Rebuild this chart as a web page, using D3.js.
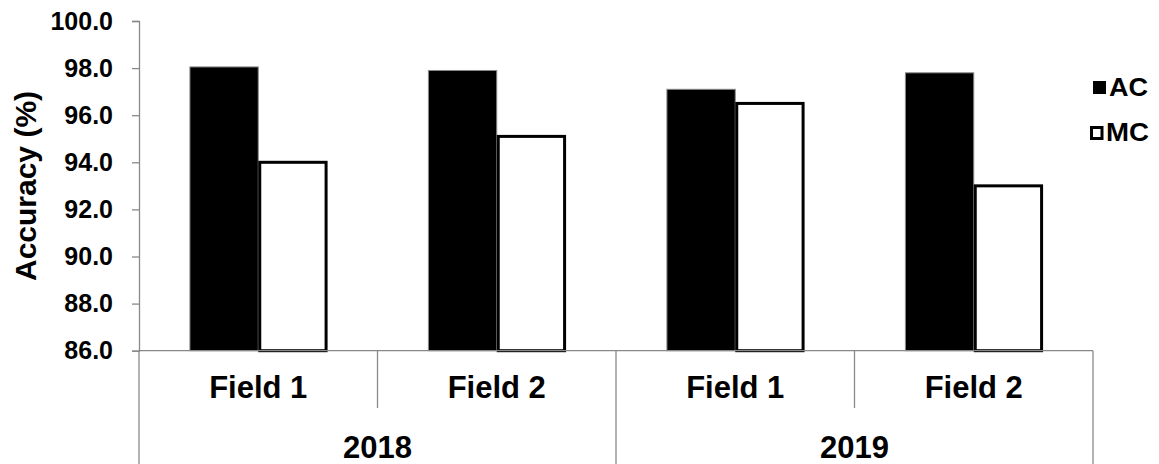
<!DOCTYPE html>
<html>
<head>
<meta charset="utf-8">
<script src="https://cdn.jsdelivr.net/npm/d3@7"></script>
<style>
  html, body { margin: 0; padding: 0; background: #fff; }
  svg text { font-family: "Liberation Sans", Arial, sans-serif; font-weight: bold; fill: #000; }
</style>
</head>
<body>
<svg id="chart" width="1159" height="464"></svg>
<script>
// Accuracy of AC and MC per field and year
const years = ["2018", "2019"];
const fields = ["Field 1", "Field 2"];
const series = ["AC", "MC"];
const acValues = [98.05, 97.9, 97.1, 97.8];
const mcValues = [94.0, 95.1, 96.5, 93.0];
const yTicks = [86, 88, 90, 92, 94, 96, 98, 100];

const categories = [];
years.forEach(yr => fields.forEach(f => categories.push({ year: yr, field: f, key: yr + " " + f })));
const rows = categories.map((c, i) => ({ ...c, AC: acValues[i], MC: mcValues[i] }));

const svg = d3.select("#chart");
const plotLeft = 139, plotRight = 1093, plotTop = 21, plotBottom = 350.7;
const axisColor = "#898989";

const x = d3.scaleBand().domain(categories.map(c => c.key)).range([plotLeft, plotRight]).paddingInner(0).paddingOuter(0);
const xs = d3.scaleBand().domain(series).range([0, x.bandwidth()]).paddingInner(0).paddingOuter(0.745);
const y = d3.scaleLinear().domain([86, 100]).range([plotBottom, plotTop]);

// bars
const groups = svg.append("g").selectAll("g").data(rows).join("g")
  .attr("transform", d => `translate(${x(d.key)},0)`);

groups.append("rect")
  .attr("x", xs("AC")).attr("width", xs.bandwidth())
  .attr("y", d => y(d.AC)).attr("height", d => y(86) - y(d.AC))
  .attr("fill", "#000").attr("stroke", "#8a8a8a").attr("stroke-width", 1);

groups.append("rect")
  .attr("x", xs("MC") + 1.5).attr("width", xs.bandwidth() - 2)
  .attr("y", d => y(d.MC)).attr("height", d => y(86) - y(d.MC))
  .attr("fill", "#fff").attr("stroke", "#000").attr("stroke-width", 3);

// y axis
const yAxis = d3.axisLeft(y).tickValues(yTicks).tickSize(7).tickPadding(19).tickFormat(d3.format(".1f"));
const gy = svg.append("g").attr("transform", `translate(${plotLeft},0)`).call(yAxis);
gy.select(".domain").attr("stroke", axisColor).attr("stroke-width", 1.3);
gy.selectAll(".tick line").attr("stroke", axisColor).attr("stroke-width", 1.3);
gy.selectAll(".tick text").style("font-size", "25px").attr("fill", "#000");

// category axis: baseline and separators
const ax = svg.append("g").attr("stroke", axisColor).attr("stroke-width", 1.3);
ax.append("line").attr("x1", plotLeft).attr("x2", plotRight).attr("y1", plotBottom).attr("y2", plotBottom);
const bounds = categories.map(c => x(c.key)).concat([plotRight]);
bounds.forEach((b, i) => {
  const outer = (i % fields.length === 0);
  ax.append("line").attr("x1", b).attr("x2", b)
    .attr("y1", plotBottom).attr("y2", outer ? 470 : 408);
});

// field labels
svg.append("g").selectAll("text").data(categories).join("text")
  .attr("x", d => x(d.key) + x.bandwidth() / 2).attr("y", 398)
  .attr("text-anchor", "middle").style("font-size", "31px")
  .text(d => d.field);

// year labels
svg.append("g").selectAll("text").data(years).join("text")
  .attr("x", (d, i) => x(categories[i * fields.length].key) + x.bandwidth() * fields.length / 2)
  .attr("y", 458).attr("text-anchor", "middle").style("font-size", "31px")
  .text(d => d);

// y axis title
svg.append("text")
  .attr("transform", "translate(36,186) rotate(-90)")
  .attr("text-anchor", "middle").style("font-size", "30px")
  .text("Accuracy (%)");

// legend
const legend = svg.append("g");
legend.append("rect").attr("x", 1093).attr("y", 81).attr("width", 13).attr("height", 13)
  .attr("fill", "#000");
legend.append("text").attr("x", 1109).attr("y", 96).style("font-size", "25px")
  .attr("textLength", 39).attr("lengthAdjust", "spacingAndGlyphs").text("AC");
legend.append("rect").attr("x", 1091.5).attr("y", 127.5).attr("width", 10.5).attr("height", 11)
  .attr("fill", "#fff").attr("stroke", "#000").attr("stroke-width", 3);
legend.append("text").attr("x", 1106).attr("y", 141).style("font-size", "25px")
  .attr("textLength", 43).attr("lengthAdjust", "spacingAndGlyphs").text("MC");
</script>
</body>
</html>
